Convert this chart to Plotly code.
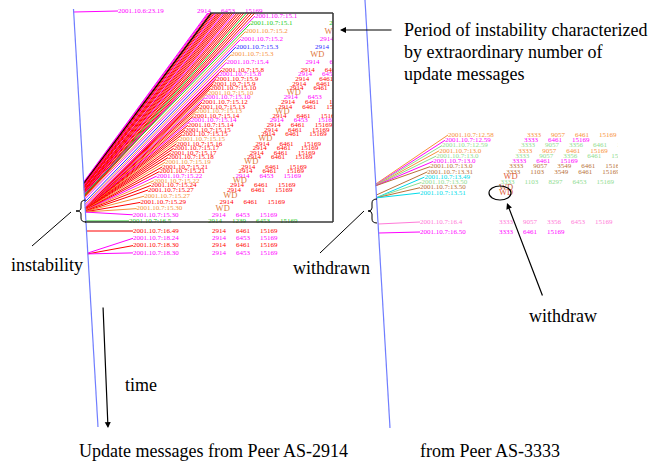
import math
import numpy as np
import plotly.graph_objects as go

W, H = 662, 463

# ---------------- data ----------------
PALETTE = {"r": "#ff0000", "m": "#ff00ff", "k": "#000000", "g": "#22cc22",
           "o": "#f7913a", "b": "#2a2aff", "lg": "#8fdc8f", "br": "#b8713a",
           "c": "#00dcea", "pk": "#ff7ad9"}
WD_COLOR = {"o": "#e0783c", "c": "#e0603c", "br": "#c0603a"}

P53 = "2914 6453 15169"
P61 = "2914 6461 15169"
P39 = "2914 1239 6453 15169"
WD = "WD"

# Peer AS-2914: minutes after 2001-10-07 00:00 (negative = previous day)
left_times = [
    -41,
    # burst whose labels stack above the frame (only their lines show)
    901.00, 901.03, 901.10, 901.12, 901.20, 901.26, 901.30, 901.35, 901.41, 901.45,
    901.50, 901.58, 901.60, 901.66, 901.70, 901.77, 901.80, 901.84, 901.88, 901.92,
    902.05, 902.10, 902.15, 902.22, 902.30, 902.35,
    # burst, visible labels
    901.90, 901.95, 902.40, 902.70, 903.20, 903.60, 904.30, 908.0, 908.2, 909.0,
    909.4, 910.0, 910.3, 910.6, 912.0, 913.0, 913.4, 914.0, 914.3, 914.6,
    915.0, 915.3, 915.6, 916.0, 917.0, 917.5, 918.0, 919.0, 921.0, 921.5,
    922.0, 922.5, 924.0, 927.0, 927.5, 929.0, 930.0, 930.3, 965.0,
    # after the burst
    1009.0, 1104.0, 1110.0, 1110.3,
]
left_paths = [
    P53,
    P53, P53, P61, P61, P61, P61, P53, P61, P61, P61,
    P61, P53, P61, P61, P61, P61, P61, P53, P61, P61,
    P61, P61, P39, P61, P61, P61,
    P53, P39, WD, P53, P53, WD, P53, P61, P53, P61,
    P61, P61, WD, P53, P61, P61, WD, P61, P53, P61,
    P61, P61, WD, P61, P61, P61, P61, WD, P61, P61,
    P53, WD, P61, P61, WD, P61, WD, P53, P39,
    P61, P53, P61, P53,
]
left_colors = [
    "m",
    "m", "m", "r", "k", "r", "r", "m", "r", "r", "r",
    "r", "m", "r", "r", "r", "r", "r", "m", "r", "r",
    "r", "r", "g", "r", "r", "r",
    "m", "g", "o", "m", "b", "o", "m", "r", "m", "r",
    "r", "r", "o", "m", "r", "r", "o", "r", "m", "r",
    "r", "r", "o", "r", "r", "r", "r", "o", "r", "r",
    "m", "o", "r", "r", "o", "r", "o", "m", "g",
    "r", "m", "r", "m",
]

# Peer AS-3333
right_times = [778.0, 779.0, 779.3, 780.0, 780.2, 780.4, 780.6, 811.0,
               829.0, 830.0, 830.4, 831.0, 964.0, 1010.0]
right_paths = ["3333 9057 6461 15169", "3333 6461 15169", "3333 9057 3356 6461 15169",
               "3333 9057 6461 15169", "3333 9057 3356 6461 15169", "3333 6461 15169",
               "3333 9057 3549 6461 15169", "3333 1103 3549 6461 15169", WD,
               "3333 1103 8297 6453 15169", WD, WD,
               "3333 9057 3356 6453 15169", "3333 6461 15169"]
right_colors = ["o", "m", "lg", "o", "lg", "m", "br", "br", "c", "lg", "br", "c", "pk", "m"]

# ---------------- layout scales (pixel space) ----------------
LEFT_SCALE_T = [-41, 901.0, 902.0, 903.5, 905, 930, 965, 1009, 1104, 1111]
LEFT_SCALE_Y = [12, 182, 195, 204, 207, 212, 221, 231, 253, 254]
RIGHT_SCALE_T = [778, 781, 811, 832, 964, 1010]
RIGHT_SCALE_Y = [184, 186, 195, 198, 224, 233]
HIDDEN_SLOTS = 26
PATH_OFFSET = 79
CHAR_W = 3.5      # digit advance of the 7px label font
TOKEN_GAP = 10.0  # gap between AS numbers in a path
FONT_SMALL = "Liberation Serif"


def left_axis_x(y):
    return np.interp(y, [9, 427], [73.5, 98])


def right_axis_x(y):
    return np.interp(y, [0, 428], [365, 390])


def stamp(t):
    day = 7 if t >= 0 else 6
    m = int(math.floor(t)) % 1440
    h, mm = divmod(m, 60)
    return f"2001.10.{day}:{h}.{mm}"


def left_label_pos(times):
    pos, k, j = [], 0, 0
    for t in times:
        if t < 0:
            pos.append((118.0, 11.0, "x", "y"))
        elif t < 1000:
            s = k - HIDDEN_SLOTS
            y = float(np.interp(s, [-26, 0, 7, 17, 33, 38], [-140, 16, 70, 116, 190, 221]))
            x = float(np.interp(y, [-140, 16, 221], [320, 255, 129]))
            pos.append((x, y, "x2", "y2"))
            k += 1
        else:
            pos.append((133.0, 231 + j * 7.3, "x2", "y2"))
            j += 1
    return pos


def right_label_pos(times):
    pos, k, j = [], 0, 0
    for t in times:
        if t < 900:
            y = 135 + k * 5.27
            x = float(np.interp(y, [135, 185], [448, 420]))
            k += 1
        else:
            y = 222 + j * 10
            x = 420.0
            j += 1
        pos.append((x, y, "x3", "y3"))
    return pos


fig = go.Figure()


def add_panel(times, paths, colors, scale_t, scale_y, axis_fn, positions):
    ay = np.interp(times, scale_t, scale_y)
    texts, wds = {}, {}
    for t, p, c, a, (lx, ly, xa, ya) in zip(times, paths, colors, ay, positions):
        col = PALETTE[c]
        fig.add_trace(go.Scatter(
            x=[float(axis_fn(a)), lx], y=[float(a), ly], mode="lines",
            line=dict(color=col, width=1.3 if c == "k" else 1.0),
            xaxis=xa, yaxis=ya, hoverinfo="skip", showlegend=False))
        d = texts.setdefault((xa, ya), {"x": [], "y": [], "t": [], "c": []})
        d["x"].append(lx); d["y"].append(ly); d["t"].append(stamp(t)); d["c"].append(col)
        cx = lx + PATH_OFFSET
        if p == WD:
            w = wds.setdefault((xa, ya), {"x": [], "y": [], "t": [], "c": []})
            w["x"].append(cx); w["y"].append(ly); w["t"].append(p)
            w["c"].append(WD_COLOR.get(c, col))
            continue
        for tok in p.split():
            d["x"].append(cx); d["y"].append(ly); d["t"].append(tok); d["c"].append(col)
            cx += len(tok) * CHAR_W + TOKEN_GAP
    for store, size in ((texts, 7), (wds, 8.5)):
        for (xa, ya), d in store.items():
            fig.add_trace(go.Scatter(
                x=d["x"], y=d["y"], text=d["t"], mode="text", textposition="middle right",
                textfont=dict(family=FONT_SMALL, size=size, color=d["c"]), cliponaxis=True,
                xaxis=xa, yaxis=ya, hoverinfo="skip", showlegend=False))


add_panel(left_times, left_paths, left_colors, LEFT_SCALE_T, LEFT_SCALE_Y,
          left_axis_x, left_label_pos(left_times))
add_panel(right_times, right_paths, right_colors, RIGHT_SCALE_T, RIGHT_SCALE_Y,
          right_axis_x, right_label_pos(right_times))


def dom_x(a, b):
    return [a / W, b / W]


def dom_y(top, bottom):
    return [1 - bottom / H, 1 - top / H]


ax_common = dict(visible=False, showgrid=False, zeroline=False, fixedrange=True)

# ---------------- decorations ----------------
BLUE = "#6f7dff"
shapes = [
    dict(type="line", x0=73.5, y0=9, x1=98, y1=427, line=dict(color=BLUE, width=1.2)),
    dict(type="line", x0=365, y0=0, x1=390, y1=428, line=dict(color=BLUE, width=1.2)),
    # frame around the burst
    dict(type="line", x0=210, y0=13, x1=333, y1=13, line=dict(color="#3a3a3a", width=1.6)),
    dict(type="line", x0=333, y0=13, x1=333, y1=222, line=dict(color="#3a3a3a", width=1.6)),
    dict(type="line", x0=85, y0=222, x1=333, y1=222, line=dict(color="#3a3a3a", width=1.6)),
    # braces
    dict(type="path", path="M 86,200 Q 81,200 81,204 L 81,208 Q 81,211 76,211 "
                           "Q 81,211 81,214 L 81,218 Q 81,222 86,222",
         line=dict(color="black", width=1)),
    dict(type="path", path="M 377,199 Q 372,199 372,203 L 372,208 Q 372,211 368,211 "
                           "Q 372,211 372,214 L 372,219 Q 372,223 377,223",
         line=dict(color="black", width=1)),
    dict(type="line", x0=71, y0=212, x1=32, y1=246, line=dict(color="black", width=1)),
    dict(type="line", x0=364, y0=211, x1=320, y1=253, line=dict(color="black", width=1)),
    dict(type="circle", x0=489, y0=186, x1=511, y1=200, line=dict(color="black", width=1.2)),
]
for s in shapes:
    s.update(xref="x", yref="y", layer="above")

SERIF = dict(family="Liberation Serif", size=18, color="black")
annotations = []
for txt, x, y, anchor in [
    ("Period of instability characterized", 402, 30, "left"),
    ("by extraordinary number of", 402, 52, "left"),
    ("update messages", 402, 74, "left"),
    ("instability", 47, 265, "center"),
    ("withdrawn", 331, 268, "center"),
    ("withdraw", 563, 316, "center"),
    ("time", 141, 385, "center"),
    ("Update messages from Peer AS-2914", 213, 451, "center"),
    ("from Peer AS-3333", 490, 451, "center"),
]:
    annotations.append(dict(x=x, y=y, xref="x", yref="y", text=txt, showarrow=False,
                            xanchor=anchor, yanchor="middle", font=SERIF))
for hx, hy, tx, ty in [(340, 30, 393, 30), (507, 203, 543, 297), (108, 428, 103, 306)]:
    annotations.append(dict(x=hx, y=hy, ax=tx, ay=ty, xref="x", yref="y",
                            axref="x", ayref="y", text="", showarrow=True,
                            arrowhead=2, arrowsize=1, arrowwidth=1.2, arrowcolor="black"))

fig.update_layout(
    width=W, height=H, autosize=False,
    margin=dict(l=0, r=0, t=0, b=0, pad=0),
    paper_bgcolor="white", plot_bgcolor="rgba(0,0,0,0)",
    xaxis=dict(range=[0, W], domain=[0, 1], anchor="y", **ax_common),
    yaxis=dict(range=[H, 0], domain=[0, 1], anchor="x", **ax_common),
    xaxis2=dict(range=[82, 333], domain=dom_x(82, 333), anchor="y2", **ax_common),
    yaxis2=dict(range=[262, 13], domain=dom_y(13, 262), anchor="x2", **ax_common),
    xaxis3=dict(range=[368, 618], domain=dom_x(368, 618), anchor="y3", **ax_common),
    yaxis3=dict(range=[260, 100], domain=dom_y(100, 260), anchor="x3", **ax_common),
    shapes=shapes, annotations=annotations, showlegend=False,
)

fig.write_html("out.html", include_plotlyjs=True, config={"displayModeBar": False})
